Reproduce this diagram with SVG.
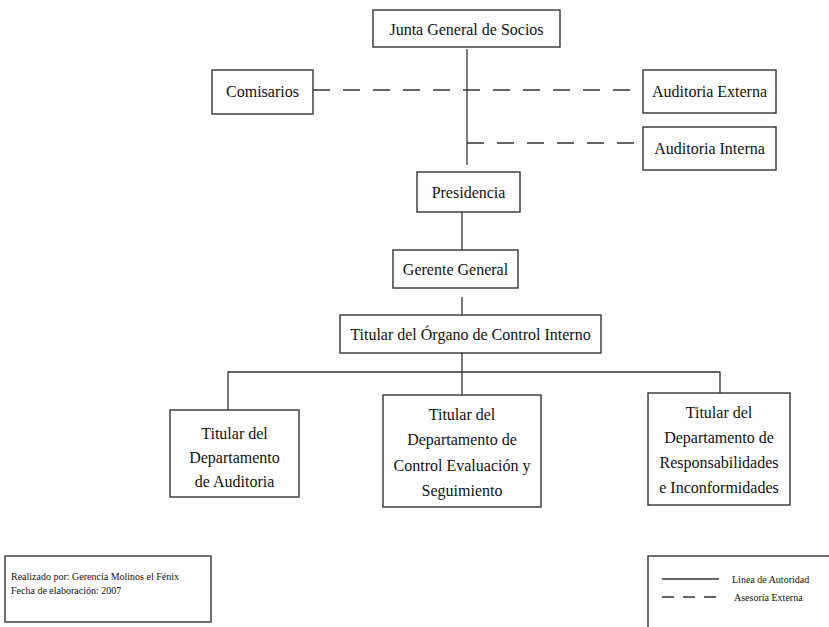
<svg xmlns="http://www.w3.org/2000/svg" width="829" height="627" viewBox="0 0 829 627">
<style>
.box{fill:#fff;stroke:#333;stroke-width:1.4}
.t{font-family:"Liberation Serif","Times New Roman",serif;font-size:16px;fill:#111;text-anchor:middle}
.s{font-family:"Liberation Serif","Times New Roman",serif;font-size:10px;fill:#111}
.ln{stroke:#333;stroke-width:1.3;fill:none}
.dash{stroke:#333;stroke-width:1.3;fill:none;stroke-dasharray:17 13}
</style>
<rect width="829" height="627" fill="#fff"/>
<g id="connectors">
<line class="ln" x1="467" y1="49" x2="467" y2="165"/>
<line class="dash" x1="313" y1="90" x2="643" y2="90"/>
<line class="dash" x1="467" y1="143" x2="643" y2="143"/>
<line class="ln" x1="462" y1="212" x2="462" y2="250"/>
<line class="ln" x1="462" y1="297" x2="462" y2="315"/>
<line class="ln" x1="462" y1="353" x2="462" y2="395"/>
<polyline class="ln" points="228,410 228,372 720,372 720,393"/>
</g>
<g id="junta"><rect class="box" x="373" y="10" width="187" height="37"/><text class="t" x="466.5" y="35">Junta General de Socios</text></g>
<g id="comisarios"><rect class="box" x="212" y="70" width="101" height="44"/><text class="t" x="262.5" y="97">Comisarios</text></g>
<g id="auditoria-externa"><rect class="box" x="643" y="70" width="133" height="43"/><text class="t" x="709.5" y="97">Auditoria Externa</text></g>
<g id="auditoria-interna"><rect class="box" x="643" y="127" width="133" height="43"/><text class="t" x="709.5" y="154">Auditoria Interna</text></g>
<g id="presidencia"><rect class="box" x="417" y="172" width="103" height="40"/><text class="t" x="468.5" y="198">Presidencia</text></g>
<g id="gerente"><rect class="box" x="393" y="250" width="125" height="38"/><text class="t" x="455.5" y="275">Gerente General</text></g>
<g id="organo"><rect class="box" x="340" y="315" width="261" height="38"/><text class="t" x="470.5" y="340">Titular del Órgano de Control Interno</text></g>
<g id="dep-auditoria"><rect class="box" x="170" y="410" width="129" height="87"/>
<text class="t" x="234.5" y="439">Titular del</text><text class="t" x="234.5" y="463">Departamento</text><text class="t" x="234.5" y="487">de Auditoria</text></g>
<g id="dep-control"><rect class="box" x="383" y="395" width="158" height="112"/>
<text class="t" x="462" y="420">Titular del</text><text class="t" x="462" y="445">Departamento de</text><text class="t" x="462" y="471">Control Evaluación y</text><text class="t" x="462" y="496">Seguimiento</text></g>
<g id="dep-responsabilidades"><rect class="box" x="648" y="393" width="142" height="112"/>
<text class="t" x="719" y="418">Titular del</text><text class="t" x="719" y="443">Departamento de</text><text class="t" x="719" y="468">Responsabilidades</text><text class="t" x="719" y="493">e Inconformidades</text></g>
<g id="footer">
<rect class="box" x="5" y="556" width="206" height="66"/>
<text class="s" x="11" y="580">Realizado por: Gerencia Molinos el Fénix</text>
<text class="s" x="11" y="594">Fecha de elaboración: 2007</text>
</g>
<g id="legend">
<rect class="box" x="648" y="556" width="190" height="80"/>
<line class="ln" x1="662" y1="579" x2="719" y2="579"/>
<line class="ln" x1="662" y1="597" x2="720" y2="597" stroke-dasharray="12 9"/>
<text class="s" x="732" y="583">Línea de Autoridad</text>
<text class="s" x="734" y="601">Asesoría Externa</text>
</g>
</svg>
